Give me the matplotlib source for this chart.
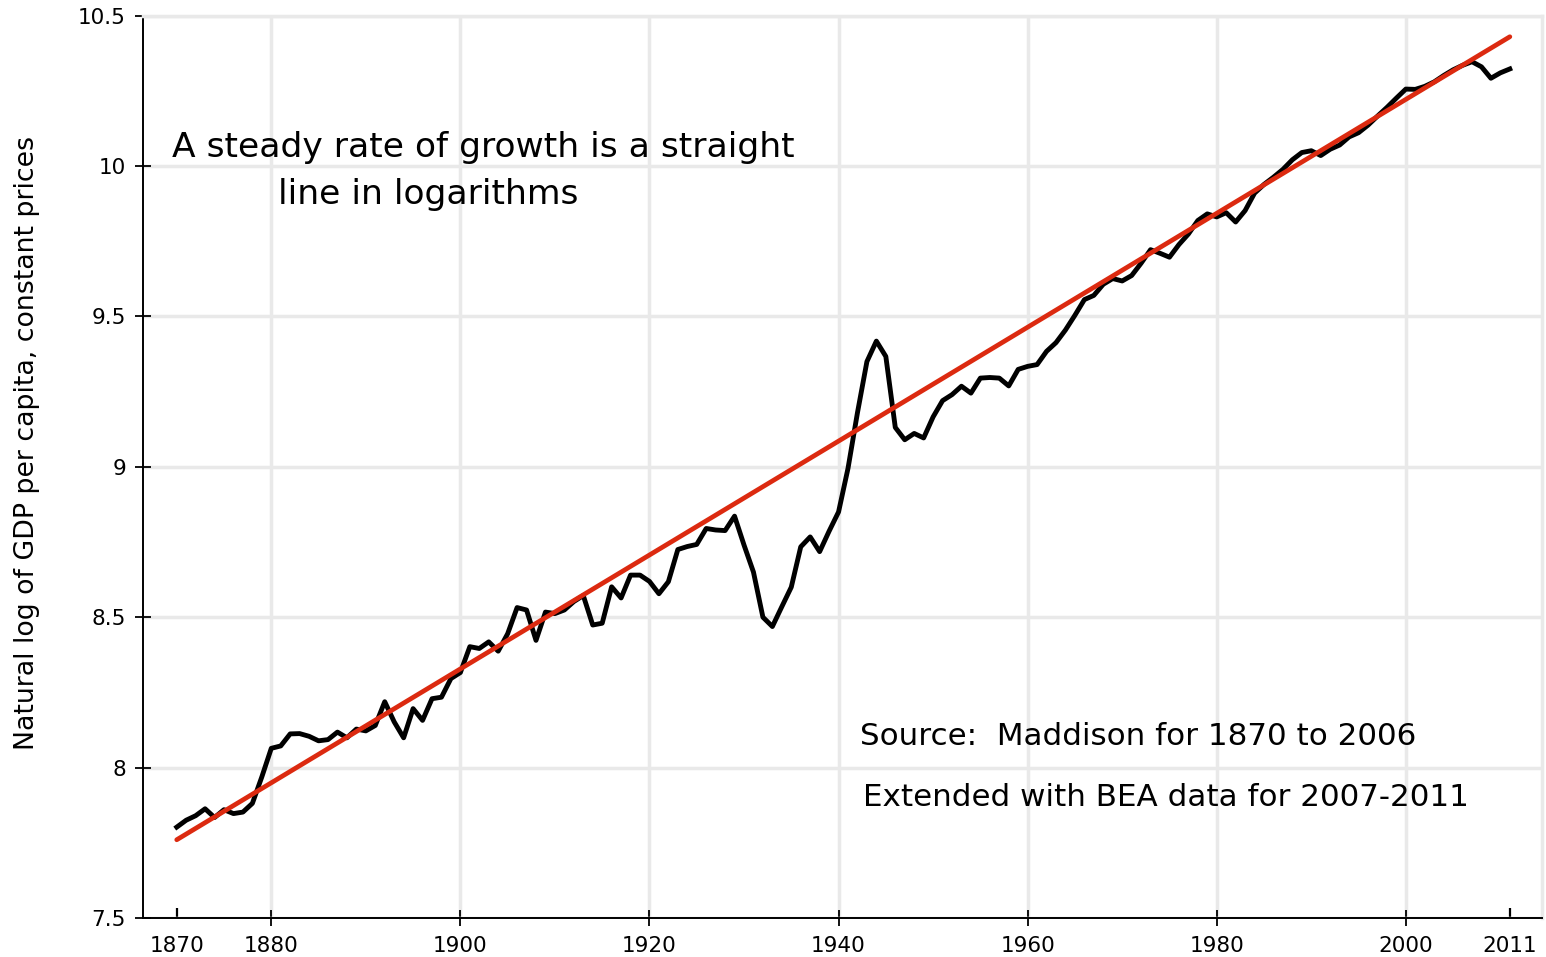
import matplotlib
matplotlib.use("Agg")
from matplotlib import pyplot as plt
from matplotlib.ticker import FixedLocator, FixedFormatter

# natural log of US GDP per capita (Maddison 1870-2006, BEA 2007-2011)
years = list(range(1870, 2012))
log_gdp = [
    7.802, 7.825, 7.840, 7.863, 7.834, 7.860, 7.847, 7.852, 7.881, 7.969,  # 1870s
    8.064, 8.072, 8.112, 8.113, 8.104, 8.089, 8.093, 8.118, 8.099, 8.128,  # 1880s
    8.122, 8.140, 8.219, 8.152, 8.099, 8.196, 8.157, 8.229, 8.234, 8.296,  # 1890s
    8.316, 8.402, 8.396, 8.418, 8.387, 8.445, 8.532, 8.524, 8.423, 8.517,  # 1900s
    8.512, 8.524, 8.552, 8.572, 8.474, 8.480, 8.601, 8.564, 8.640, 8.640,  # 1910s
    8.619, 8.578, 8.618, 8.725, 8.735, 8.742, 8.795, 8.790, 8.788, 8.836,  # 1920s
    8.740, 8.650, 8.500, 8.469, 8.535, 8.600, 8.734, 8.767, 8.718, 8.786,  # 1930s
    8.850, 8.995, 9.180, 9.350, 9.418, 9.367, 9.131, 9.090, 9.111, 9.096,  # 1940s
    9.166, 9.220, 9.240, 9.268, 9.245, 9.295, 9.297, 9.295, 9.269, 9.324,  # 1950s
    9.334, 9.340, 9.384, 9.413, 9.455, 9.504, 9.556, 9.570, 9.607, 9.626,  # 1960s
    9.618, 9.636, 9.677, 9.722, 9.710, 9.697, 9.739, 9.774, 9.819, 9.841,  # 1970s
    9.831, 9.845, 9.814, 9.852, 9.910, 9.939, 9.963, 9.989, 10.021, 10.045,  # 1980s
    10.051, 10.035, 10.056, 10.070, 10.097, 10.111, 10.136, 10.166, 10.195, 10.226,  # 1990s
    10.256, 10.255, 10.265, 10.280, 10.301, 10.320, 10.335, 10.347, 10.330, 10.292,  # 2000s
    10.310, 10.323,
]

# straight-line trend, end points
trend_years = [1870, 2011]
trend_values = [7.76, 10.43]

x_major = [1880, 1900, 1920, 1940, 1960, 1980, 2000]
x_minor = [1870, 2011]
y_ticks = [7.5, 8, 8.5, 9, 9.5, 10, 10.5]
y_labels = ["7.5", "8", "8.5", "9", "9.5", "10", "10.5"]

grid_col = "#e9e9e9"

fig = plt.figure(figsize=(15.46, 9.57), dpi=100)
ax = fig.add_axes([0.0923, 0.0408, 0.9051, 0.9428])

ax.plot(years, log_gdp, color="black", lw=3.5, solid_joinstyle="round", zorder=3)
ax.plot(trend_years, trend_values, color="#dc2a10", lw=3.4, solid_capstyle="round", zorder=4)

ax.set_xlim(1866.4, 2014.4)
ax.set_ylim(7.5, 10.5)

ax.xaxis.set_major_locator(FixedLocator(x_major))
ax.xaxis.set_minor_locator(FixedLocator(x_minor))
ax.xaxis.set_minor_formatter(FixedFormatter([str(y) for y in x_minor]))
ax.set_yticks(y_ticks)
ax.set_yticklabels(y_labels)

ax.tick_params(axis="both", which="major", direction="inout", length=12, width=1.3,
               labelsize=15.5, colors="black")
ax.tick_params(axis="x", which="major", pad=7)
ax.tick_params(axis="y", which="major", pad=6)
ax.tick_params(axis="x", which="minor", direction="in", length=7, width=1.6,
               labelsize=15.5, pad=13)

ax.grid(True, which="major", color=grid_col, lw=2.5, zorder=0)
ax.set_axisbelow(True)

ax.spines["left"].set_linewidth(1.4)
ax.spines["bottom"].set_linewidth(1.4)
ax.spines["top"].set_color(grid_col)
ax.spines["top"].set_linewidth(2.5)
ax.spines["right"].set_color(grid_col)
ax.spines["right"].set_linewidth(2.5)

ax.text(0.021, 0.8437, "A steady rate of growth is a straight", transform=ax.transAxes,
        fontsize=24.8, va="baseline", ha="left")
ax.text(0.0967, 0.7916, "line in logarithms", transform=ax.transAxes,
        fontsize=24.8, va="baseline", ha="left")

ax.text(0.5126, 0.1917, "Source:  Maddison for 1870 to 2006", transform=ax.transAxes,
        fontsize=22.3, va="baseline", ha="left")
ax.text(0.5148, 0.1241, "Extended with BEA data for 2007-2011", transform=ax.transAxes,
        fontsize=22.3, va="baseline", ha="left")

fig.text(27 / 1546, 1 - 443 / 957, "Natural log of GDP per capita, constant prices",
         rotation=90, ha="center", va="center", fontsize=19.3)

fig.savefig("out.png", dpi=100)
